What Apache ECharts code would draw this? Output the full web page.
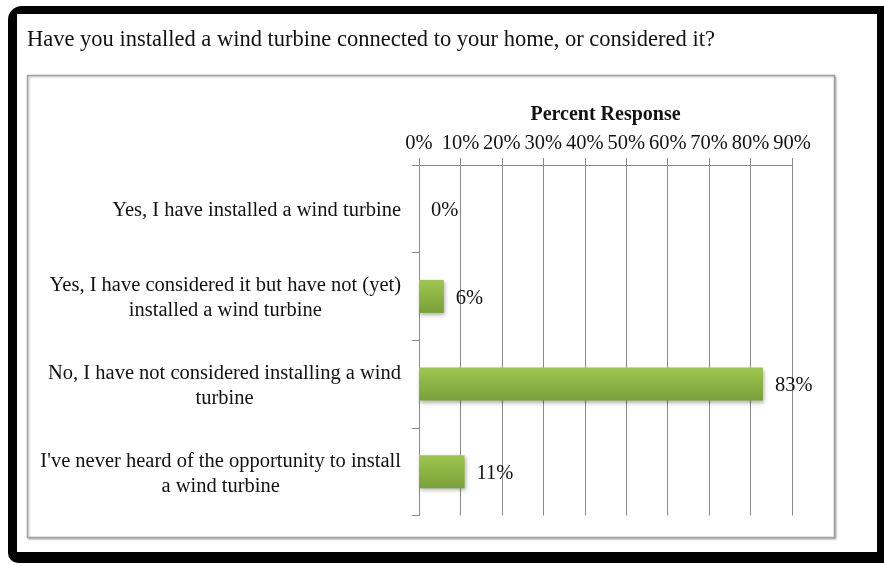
<!DOCTYPE html>
<html>
<head>
<meta charset="utf-8">
<style>
  html, body { margin: 0; padding: 0; background: #fff; }
  #chart { width: 884px; height: 564px; }
</style>
<script src="https://cdn.jsdelivr.net/npm/echarts@6/dist/echarts.min.js"></script>
</head>
<body>
<div id="chart"></div>
<script>
// Survey question and answers
const questionTitle = 'Have you installed a wind turbine connected to your home, or considered it?';
const answers = [
  'Yes, I have installed a wind turbine',
  'Yes, I have considered it but have not (yet)\ninstalled a wind turbine',
  'No, I have not considered installing a wind\nturbine',
  "I've never heard of the opportunity to install\na wind turbine"
];
// Share of respondents per answer, in percent
const percentResponse = [0, 6, 83, 11];
// Percent axis ticks
const axisMin = 0;
const axisMax = 90;
const axisStep = 10;

const serif = "'Liberation Serif', 'Times New Roman', serif";

const chart = echarts.init(document.getElementById('chart'), null, { renderer: 'canvas' });

chart.setOption({
  backgroundColor: '#ffffff',
  animation: false,
  graphic: [
    // heavy black frame with a rounded left side
    {
      type: 'rect', z: -20, silent: true,
      shape: { x: 8, y: 6, width: 890, height: 557, r: [14, 0, 0, 10] },
      style: { fill: '#000000' }
    },
    {
      type: 'rect', z: -19, silent: true,
      shape: { x: 17, y: 14, width: 860, height: 538 },
      style: { fill: '#ffffff' }
    },
    // chart area box
    {
      type: 'rect', z: -18, silent: true,
      shape: { x: 27.5, y: 75.5, width: 807, height: 462 },
      style: { fill: '#ffffff', stroke: '#a3a3a3', lineWidth: 1.5,
               shadowColor: 'rgba(0,0,0,0.25)', shadowBlur: 2, shadowOffsetX: 1, shadowOffsetY: 1 }
    }
  ],
  title: {
    text: questionTitle,
    left: 27,
    top: 29,
    padding: 0,
    textStyle: { fontFamily: serif, fontSize: 22.5, fontWeight: 'normal', color: '#111111' }
  },
  grid: { left: 419, right: 92, top: 165, bottom: 48.5, containLabel: false },
  xAxis: {
    type: 'value',
    position: 'top',
    min: axisMin,
    max: axisMax,
    interval: axisStep,
    name: 'Percent Response',
    nameLocation: 'middle',
    nameGap: 40,
    nameTextStyle: { fontFamily: serif, fontSize: 20, fontWeight: 'bold', color: '#111111' },
    axisLine: { show: true, lineStyle: { color: '#8a8a8a', width: 1 } },
    axisTick: { show: true, length: 7, lineStyle: { color: '#8a8a8a' } },
    axisLabel: {
      margin: 11,
      formatter: '{value}%',
      fontFamily: serif, fontSize: 20.5, color: '#111111'
    },
    splitLine: { show: true, lineStyle: { color: '#8a8a8a', width: 1 } }
  },
  yAxis: {
    type: 'category',
    inverse: true,
    data: answers,
    axisLine: { show: true, lineStyle: { color: '#8a8a8a', width: 1 } },
    axisTick: { show: true, length: 7, lineStyle: { color: '#8a8a8a' } },
    axisLabel: {
      margin: 18,
      align: 'right',
      formatter: function (v) { return '{c|' + v + '}'; },
      rich: {
        c: { align: 'center', fontFamily: serif, fontSize: 20.5, lineHeight: 25, color: '#111111', padding: [4, 0, 0, 0] }
      }
    },
    splitLine: { show: false }
  },
  series: [{
    type: 'bar',
    data: percentResponse,
    barWidth: 33,
    itemStyle: {
      color: new echarts.graphic.LinearGradient(0, 0, 0, 1, [
        { offset: 0, color: '#9ec64e' },
        { offset: 1, color: '#78a03a' }
      ]),
      shadowColor: 'rgba(0,0,0,0.3)',
      shadowBlur: 4,
      shadowOffsetX: 1,
      shadowOffsetY: 2
    },
    label: {
      show: true,
      position: 'right',
      distance: 12,
      offset: [0, 2],
      formatter: '{c}%',
      fontFamily: serif, fontSize: 20.5, color: '#111111'
    }
  }]
});
</script>
</body>
</html>
